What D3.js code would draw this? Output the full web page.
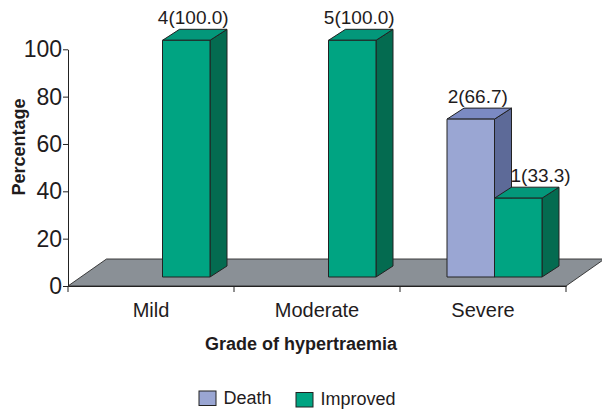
<!DOCTYPE html>
<html>
<head>
<meta charset="utf-8">
<script src="https://cdn.jsdelivr.net/npm/d3@7/dist/d3.min.js"></script>
<style>
  html, body { margin: 0; padding: 0; background: #fff; }
  svg { display: block; font-family: "Liberation Sans", Arial, sans-serif; }
</style>
</head>
<body>
<svg id="chart" width="602" height="409"></svg>
<script>
// Outcome by grade of hypernatraemia: counts and percentages per group
const grades = ["Mild", "Moderate", "Severe"];
const seriesNames = ["Death", "Improved"];
const deathCounts = [0, 0, 2];
const deathPct = [0, 0, 66.7];
const improvedCounts = [4, 5, 1];
const improvedPct = [100, 100, 33.3];
const yTicks = [0, 20, 40, 60, 80, 100];

const palette = {
  Death:    { front: "#9aa6d3", side: "#5d6a98", top: "#7b8ac3" },
  Improved: { front: "#00a482", side: "#046b50", top: "#03977a" }
};

const svg = d3.select("#chart");
const plot = { left: 68, right: 566, top: 49.3, bottom: 286 };

// 3D projection offsets
const floorDepth = { dx: 38.5, dy: -27 };   // depth of the floor plane
const barInset = { dx: 11.5, dy: -9 };      // bars stand partly into the floor
const barDepth = { dx: 17, dy: -11 };       // depth of each bar

const x0 = d3.scaleBand().domain(grades).range([plot.left, plot.right]).paddingInner(0).paddingOuter(0);
const barW = 47.5;
const x1 = d3.scaleBand().domain(seriesNames).range([0, barW * 2]).padding(0);
const y = d3.scaleLinear().domain([0, 100]).range([plot.bottom, plot.top]);

const rows = grades.map((g, i) => ({
  grade: g,
  values: [
    { series: "Death", count: deathCounts[i], pct: deathPct[i] },
    { series: "Improved", count: improvedCounts[i], pct: improvedPct[i] }
  ]
}));

// Floor
const f0 = [plot.left, plot.bottom], f1 = [plot.right, plot.bottom];
svg.append("path")
  .attr("d", d3.line()([
    f0, f1,
    [f1[0] + floorDepth.dx, f1[1] + floorDepth.dy],
    [f0[0] + floorDepth.dx, f0[1] + floorDepth.dy]
  ]) + "Z")
  .attr("fill", "#8a9096")
  .attr("stroke", "#2b2b2b")
  .attr("stroke-width", 0.9);

// Axes
const yAxis = d3.axisLeft(y).tickValues(yTicks).tickSize(5).tickPadding(1).tickSizeOuter(0);
const gy = svg.append("g").attr("transform", `translate(${plot.left},0)`).call(yAxis);
gy.select(".domain").attr("stroke", "#222");
gy.selectAll(".tick line").attr("stroke", "#222");
gy.selectAll(".tick text").attr("font-size", 23).attr("fill", "#1f1c1d")
  .attr("font-family", "'Liberation Sans', Arial, sans-serif");

const xAxis = d3.axisBottom(x0).tickSize(0).tickPadding(0);
const gx = svg.append("g").attr("transform", `translate(0,${plot.bottom})`).call(xAxis);
gx.select(".domain").attr("stroke", "#222");
gx.selectAll(".tick text").attr("font-size", 20).attr("fill", "#1f1c1d")
  .attr("font-family", "'Liberation Sans', Arial, sans-serif").attr("dy", "1.55em");
// category boundary ticks
const boundaries = grades.map(g => x0(g)).concat([plot.right]);
gx.selectAll(".bound").data(boundaries).enter().append("line")
  .attr("x1", d => d).attr("x2", d => d).attr("y1", 0).attr("y2", 6)
  .attr("stroke", "#222");

// Bars
const barLayer = svg.append("g");
const labelLayer = svg.append("g");
const outline = "#222";

rows.forEach(row => {
  const groupLeft = x0(row.grade) + (x0.bandwidth() - barW * 2) / 2 + barInset.dx;
  let prevBar = null;
  row.values.forEach(v => {
    const xl = groupLeft + x1(v.series);
    const xr = xl + x1.bandwidth();
    const yb = y(0) + barInset.dy;
    const yt = y(v.pct) + barInset.dy;
    const c = palette[v.series];
    const bar = { xr: xr + barDepth.dx, yt: yt + barDepth.dy, count: v.count };
    if (v.count > 0) {
      const g = barLayer.append("g").attr("stroke", outline).attr("stroke-width", 1).attr("stroke-linejoin", "round");
      // side
      g.append("path").attr("fill", c.side).attr("d", d3.line()([
        [xr, yb], [xr, yt], [xr + barDepth.dx, yt + barDepth.dy], [xr + barDepth.dx, yb + barDepth.dy]
      ]) + "Z");
      // top
      g.append("path").attr("fill", c.top).attr("d", d3.line()([
        [xl, yt], [xr, yt], [xr + barDepth.dx, yt + barDepth.dy], [xl + barDepth.dx, yt + barDepth.dy]
      ]) + "Z");
      // front
      g.append("rect").attr("fill", c.front)
        .attr("x", xl).attr("y", yt).attr("width", xr - xl).attr("height", yb - yt);

      // value label
      const cx = (xl + xr) / 2 + 7;
      const t = labelLayer.append("text")
        .attr("font-size", 19).attr("fill", "#1f1c1d")
        .attr("text-anchor", "middle")
        .attr("x", cx)
        .attr("y", yt + barDepth.dy - 5)
        .text(`${v.count}(${v.pct.toFixed(1)})`);
      // keep the label clear of a taller neighbour on the left
      if (prevBar && prevBar.count > 0 && prevBar.yt < yt + barDepth.dy) {
        const w = t.node().getComputedTextLength();
        if (cx - w / 2 < prevBar.xr) t.attr("x", prevBar.xr + w / 2 - 1);
      }
    }
    prevBar = bar;
  });
});

// Axis titles
svg.append("text")
  .attr("transform", "translate(25,147) rotate(-90)")
  .attr("text-anchor", "middle")
  .attr("font-size", 18).attr("font-weight", "bold").attr("fill", "#1f1c1d")
  .text("Percentage");

svg.append("text")
  .attr("x", 301).attr("y", 350)
  .attr("text-anchor", "middle")
  .attr("font-size", 18).attr("font-weight", "bold").attr("fill", "#1f1c1d")
  .text("Grade of hypertraemia");

// Legend
const legendItems = [
  { name: "Death", x: 199, y: 391 },
  { name: "Improved", x: 296, y: 392.5 }
];
const lg = svg.append("g");
legendItems.forEach(item => {
  lg.append("rect")
    .attr("x", item.x).attr("y", item.y).attr("width", 17).attr("height", 14.5)
    .attr("fill", palette[item.name].front).attr("stroke", outline).attr("stroke-width", 1);
  lg.append("text")
    .attr("x", item.x + 24.5).attr("y", item.y + 12.5)
    .attr("font-size", 18).attr("fill", "#1f1c1d")
    .text(item.name);
});
</script>
</body>
</html>
